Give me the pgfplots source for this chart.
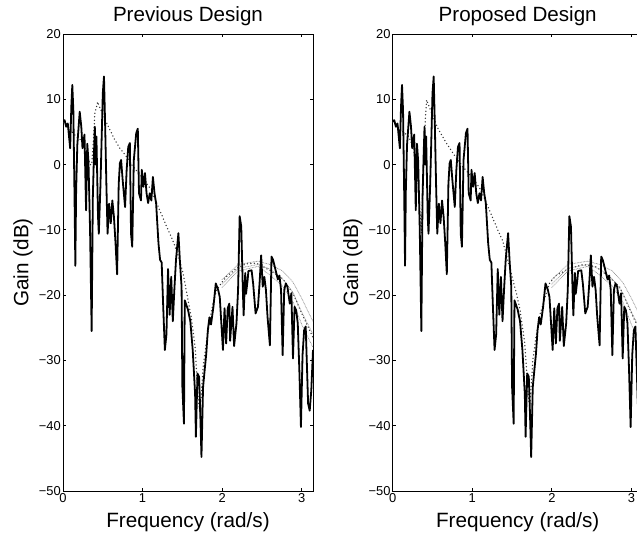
\documentclass[border=0pt]{standalone}
\usepackage{fontspec}
\setmainfont{Liberation Sans}
\usepackage{pgfplots}
\usepackage{pgfplotstable}
\pgfplotsset{compat=1.18}

% measured frequency response (same in both panels)
\pgfplotstableread{
w g
0.00 6.6
0.02 6.8
0.04 5.8
0.06 6.3
0.09 2.5
0.105 9.0
0.117 12.2
0.13 8.3
0.145 -5
0.155 -15.5
0.165 -4
0.18 3
0.21 8.1
0.23 5.8
0.245 2.5
0.27 4.6
0.29 -7
0.305 3.2
0.32 0.5
0.34 -10
0.36 -25.5
0.375 -5
0.39 2
0.40 5.8
0.41 0
0.42 4.3
0.44 -8
0.45 -10.6
0.47 -3.4
0.49 6
0.50 10.9
0.515 13.5
0.53 5.8
0.545 -3
0.56 -10.6
0.58 -6
0.60 -9
0.62 -5.5
0.64 -8
0.66 -12
0.68 -16.8
0.70 -3
0.715 0.2
0.73 0.7
0.75 -2.4
0.78 -6.5
0.80 -0.8
0.82 2.7
0.84 3.3
0.855 -10.6
0.87 -12.6
0.89 0.7
0.92 4.8
0.94 5.5
0.955 -4.4
0.98 -5.5
0.99 -0.8
1.01 -3.4
1.03 -1.3
1.05 -4.4
1.07 -5.9
1.09 -4.4
1.11 -5.5
1.13 -1.9
1.15 -4.4
1.17 -5.9
1.20 -12.1
1.22 -14.6
1.24 -15
1.26 -22
1.28 -28.4
1.30 -26
1.32 -16
1.34 -23
1.36 -17.2
1.38 -24
1.40 -19
1.42 -14.6
1.45 -10.5
1.47 -15
1.49 -18.7
1.50 -34
1.52 -39.7
1.53 -20.8
1.55 -21.5
1.57 -22.2
1.60 -24
1.63 -28.4
1.66 -35.1
1.67 -41.7
1.69 -32
1.71 -32.5
1.72 -36
1.74 -44.8
1.76 -34.1
1.78 -31.5
1.80 -29
1.82 -25.4
1.84 -23.4
1.86 -24.5
1.89 -21.8
1.92 -18.2
1.95 -19.2
1.97 -20.3
2.01 -28.4
2.03 -22
2.05 -27.4
2.07 -22
2.09 -21.3
2.10 -27
2.13 -21.8
2.15 -27.8
2.18 -24.3
2.20 -19.2
2.22 -7.9
2.24 -9.5
2.26 -19.2
2.27 -23.1
2.29 -16.6
2.30 -19.8
2.32 -17.7
2.33 -16.3
2.37 -16.2
2.39 -18.3
2.42 -22.8
2.45 -21.8
2.47 -18.2
2.49 -13.9
2.51 -18.7
2.53 -17.2
2.55 -19.2
2.57 -23.3
2.60 -27.7
2.62 -14.1
2.64 -14.6
2.66 -15.6
2.68 -16.6
2.70 -17.6
2.72 -17.0
2.74 -19.2
2.76 -29.2
2.78 -19.2
2.80 -18.2
2.82 -18.7
2.85 -21.3
2.87 -19.7
2.89 -29.7
2.91 -21.8
2.93 -22.3
2.95 -24.3
2.97 -31.5
2.99 -40.2
3.01 -29.2
3.03 -25.4
3.05 -24.8
3.08 -36.6
3.10 -37.7
3.12 -34.6
3.1416 -28.4
}\measured

% model, previous design
\pgfplotstableread{
w g
0.00 6.5
0.05 6
0.10 5.2
0.15 4.5
0.20 4
0.25 3.5
0.30 1.5
0.34 0
0.36 0
0.38 3.2
0.40 7.8
0.435 9.6
0.47 8.5
0.505 7.6
0.57 5.8
0.65 3.8
0.715 2.5
0.78 1.5
0.88 -0.3
1.00 -2
1.11 -3.9
1.18 -6
1.24 -7.7
1.32 -10
1.38 -11.6
1.45 -14
1.51 -16.7
1.56 -20
1.61 -23.3
1.66 -27.9
1.68 -32
1.70 -36
1.72 -38
1.74 -35
1.76 -31
1.80 -27.5
1.84 -24.3
1.88 -21.5
1.93 -19.2
2.00 -18
2.05 -17.2
2.18 -15.9
2.30 -15.2
2.43 -15.1
2.60 -16.2
2.76 -17.5
2.89 -19.7
3.00 -22.8
3.10 -25.4
3.1416 -26.5
}\modelprev

% model, proposed design
\pgfplotstableread{
w g
0.00 6.5
0.05 6
0.10 5.3
0.15 4.8
0.20 4.3
0.26 2.7
0.32 -2.9
0.36 -10.5
0.38 -3
0.405 5.8
0.426 9.9
0.46 8.8
0.505 7.4
0.57 5.5
0.68 3.2
0.76 1.7
0.88 -0.3
1.00 -2
1.11 -3.9
1.18 -6
1.24 -7.7
1.32 -10
1.38 -11.6
1.49 -16.7
1.56 -20
1.60 -22.3
1.66 -27.4
1.68 -31
1.70 -35
1.72 -37
1.74 -34
1.76 -30
1.80 -26.5
1.85 -23
1.93 -19.7
1.97 -18.2
2.05 -17
2.22 -15.9
2.40 -15.3
2.56 -15.7
2.70 -17
2.85 -18.7
3.04 -23.8
3.1416 -26
}\modelprop

% spread of the model band at high frequency
\pgfplotstableread{
w gu gm gl
2.00 -17.6 -18.3 -18.8
2.20 -15.3 -15.9 -16.3
2.45 -14.8 -15.3 -15.6
2.60 -15.3 -16.0 -16.9
2.76 -16.3 -17.5 -18.6
2.89 -18.0 -19.6 -21.0
3.00 -20.5 -22.6 -24.5
3.10 -23.0 -25.0 -27.0
3.1416 -24.0 -26.0 -28.0
}\band

\pgfplotsset{
  bode/.style={
    scale only axis, width=250pt, height=457pt,
    xmin=0, xmax=3.1416, ymin=-50, ymax=20,
    xtick={0,1,2,3}, xticklabels={0,1,2,3},
    ytick={-50,-40,-30,-20,-10,0,10,20},
    yticklabels={−50,−40,−30,−20,−10,0,10,20},
    /pgf/number format/assume math mode=true,
    tick align=inside, major tick length=3pt,
    axis line style={line width=0.8pt},
    every tick/.style={black, line width=0.8pt},
    tick label style={font=\fontsize{12.9}{15}\selectfont},
    xticklabel style={inner sep=0pt, anchor=north, yshift=-2pt},
    yticklabel style={inner sep=0pt, anchor=east, xshift=-2pt},
    xlabel={Frequency (rad/s)}, ylabel={Gain (dB)},
    every axis x label/.style={at={(axis description cs:0.5,-0.0788)}, anchor=base, inner sep=0pt,
      font=\fontsize{20.7}{24}\selectfont},
    every axis y label/.style={at={(axis description cs:-0.138,0.5)}, rotate=90, anchor=base, inner sep=0pt,
      font=\fontsize{20.7}{24}\selectfont},
    every axis title/.style={at={(axis description cs:0.5,1.0263)}, anchor=base, inner sep=0pt,
      font=\fontsize{20.6}{24}\selectfont},
  },
  model/.style={black!80, line width=1.5pt, line cap=round, dash pattern=on 0pt off 3.5pt},
  bandline/.style={black!45, line width=1pt, line cap=round, dash pattern=on 0pt off 1.5pt},
  meas/.style={black, line width=1.8pt, line join=round},
}

\begin{document}
\begin{tikzpicture}
  \useasboundingbox (0,0) rectangle (637pt,536pt);
  \clip (0,0) rectangle (637pt,536pt);
  \begin{axis}[bode, at={(63pt,45pt)}, anchor=south west, title={Previous Design}]
    \addplot[model] table[x=w,y=g]{\modelprev};
    \addplot[bandline] table[x=w,y=gu]{\band};
    \addplot[bandline] table[x=w,y=gm]{\band};
    \addplot[bandline] table[x=w,y=gl]{\band};
    \addplot[meas] table[x=w,y=g]{\measured};
  \end{axis}
  \begin{axis}[bode, at={(392.7pt,45pt)}, anchor=south west, title={Proposed Design}]
    \addplot[model] table[x=w,y=g]{\modelprop};
    \addplot[bandline] table[x=w,y=gu]{\band};
    \addplot[bandline] table[x=w,y=gm]{\band};
    \addplot[bandline] table[x=w,y=gl]{\band};
    \addplot[meas] table[x=w,y=g]{\measured};
  \end{axis}
\end{tikzpicture}
\end{document}
